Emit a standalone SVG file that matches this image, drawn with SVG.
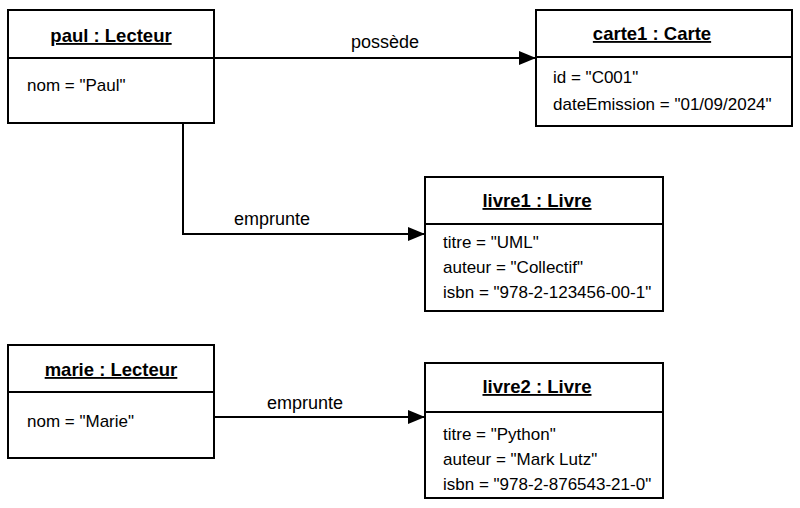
<svg xmlns="http://www.w3.org/2000/svg" width="800" height="508" viewBox="0 0 800 508">
<defs>
<marker id="arr" markerWidth="18" markerHeight="14" refX="17" refY="7" orient="auto" markerUnits="userSpaceOnUse">
<path d="M0,0 L17,7 L0,14 Z" fill="#000"/>
</marker>
<style>
.box{fill:#fff;stroke:#000;stroke-width:2}
.div{stroke:#000;stroke-width:2}
.title{font-family:"Liberation Sans",Arial,sans-serif;font-size:18.5px;font-weight:bold;text-decoration:underline;text-anchor:middle;fill:#000}
.attr{font-family:"Liberation Sans",Arial,sans-serif;font-size:17px;fill:#000}
.lbl{font-family:"Liberation Sans",Arial,sans-serif;font-size:18px;fill:#000;text-anchor:middle}
.conn{fill:none;stroke:#000;stroke-width:2;marker-end:url(#arr)}
</style>
</defs>
<rect width="800" height="508" fill="#fff"/>
<g id="connectors">
<path class="conn" d="M214,58 L536,58"/>
<text class="lbl" x="385" y="48">possède</text>
<path class="conn" d="M183,123 L183,234 L425,234"/>
<text class="lbl" x="272" y="225">emprunte</text>
<path class="conn" d="M214,417 L425,417"/>
<text class="lbl" x="305" y="409">emprunte</text>
</g>
<g id="paul">
<rect class="box" x="8" y="10" width="206" height="113"/>
<line class="div" x1="8" y1="58" x2="214" y2="58"/>
<text class="title" x="111" y="42">paul : Lecteur</text>
<text class="attr" x="27" y="91">nom = "Paul"</text>
</g>
<g id="carte1">
<rect class="box" x="536" y="10" width="256" height="116"/>
<line class="div" x1="536" y1="57" x2="792" y2="57"/>
<text class="title" x="652" y="40">carte1 : Carte</text>
<text class="attr" x="553" y="83">id = "C001"</text>
<text class="attr" x="553" y="110">dateEmission = "01/09/2024"</text>
</g>
<g id="livre1">
<rect class="box" x="425" y="177" width="238" height="134"/>
<line class="div" x1="425" y1="224" x2="663" y2="224"/>
<text class="title" x="537" y="207">livre1 : Livre</text>
<text class="attr" x="443" y="248">titre = "UML"</text>
<text class="attr" x="443" y="273">auteur = "Collectif"</text>
<text class="attr" x="443" y="298">isbn = "978-2-123456-00-1"</text>
</g>
<g id="marie">
<rect class="box" x="8" y="345" width="206" height="113"/>
<line class="div" x1="8" y1="392" x2="214" y2="392"/>
<text class="title" x="111" y="376">marie : Lecteur</text>
<text class="attr" x="27" y="427">nom = "Marie"</text>
</g>
<g id="livre2">
<rect class="box" x="425" y="363" width="238" height="135"/>
<line class="div" x1="425" y1="412" x2="663" y2="412"/>
<text class="title" x="537" y="393">livre2 : Livre</text>
<text class="attr" x="443" y="440">titre = "Python"</text>
<text class="attr" x="443" y="465">auteur = "Mark Lutz"</text>
<text class="attr" x="443" y="490">isbn = "978-2-876543-21-0"</text>
</g>
</svg>
